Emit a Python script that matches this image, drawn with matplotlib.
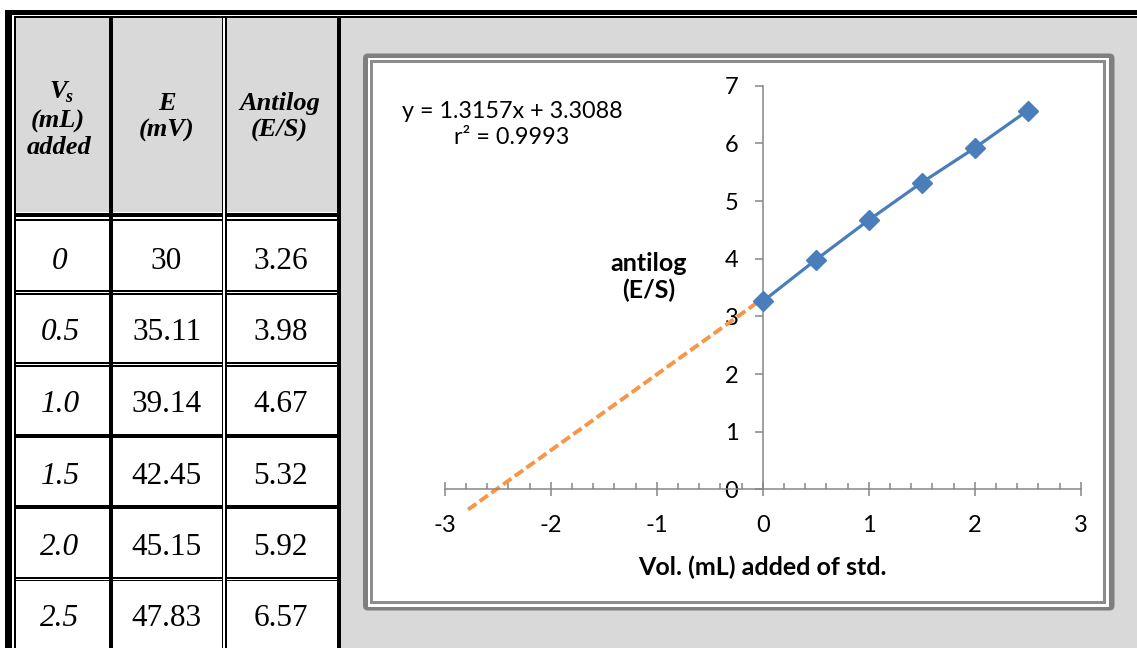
import matplotlib
matplotlib.use("Agg")
import matplotlib.pyplot as plt
from matplotlib.patches import Rectangle, FancyBboxPatch
from matplotlib.ticker import FixedLocator, MultipleLocator

# Standard-addition measurements
vol_added = [0.0, 0.5, 1.0, 1.5, 2.0, 2.5]          # mL of standard added
vol_labels = ["0", "0.5", "1.0", "1.5", "2.0", "2.5"]
potential_mv = [30, 35.11, 39.14, 42.45, 45.15, 47.83]
antilog_es = [3.26, 3.98, 4.67, 5.32, 5.92, 6.57]

# Linear fit of antilog(E/S) against added volume
fit_slope = 1.3157
fit_intercept = 3.3088
fit_r2 = 0.9993
extrap_start = -2.78      # left end of the dashed back-extrapolation

x_ticks = [-3, -2, -1, 0, 1, 2, 3]
y_ticks = [0, 1, 2, 3, 4, 5, 6, 7]

plt.rcParams["axes.unicode_minus"] = False
plt.rcParams["font.family"] = ["Lato", "DejaVu Sans"]

W, H = 1137, 648
fig = plt.figure(figsize=(W / 100, H / 100), dpi=100, facecolor="white")

# Page layer in pixel units (y downwards) for the table and chart frame
page = fig.add_axes([0, 0, 1, 1])
page.set_xlim(0, W)
page.set_ylim(H, 0)
page.axis("off")


def fill(x0, y0, x1, y1, color="black"):
    page.add_patch(Rectangle((x0, y0), x1 - x0, y1 - y0,
                             facecolor=color, edgecolor="none"))


GREY = "#d9d9d9"
SERIF = "Liberation Serif"

# backgrounds
fill(341, 17, W, H, GREY)          # panel behind the chart
fill(15, 17, 337, 212, GREY)       # header cells

# header / body separator (double rule)
fill(15, 213, 337, 217)
fill(15, 219, 337, 221)

# row rules
row_top = 221
row_pitch = 71.6
rule_styles = ["double", "double", "single", "single", "double"]
for k, style in enumerate(rule_styles, start=1):
    y = row_top + k * row_pitch
    if style == "double":
        fill(15, y - 2.2, 337, y - 0.2)
        fill(15, y + 0.8, 337, y + 2.3)
    else:
        fill(15, y - 2.0, 337, y + 2.0)

# outer page rules
fill(5, 9.5, W, 15)
fill(14, 16, W, 17.5)
fill(5, 9.5, 11.5, H)
fill(14, 16, 15.5, H)

# column rules
fill(108.7, 16, 112.7, H)
fill(221.5, 16, 223.2, H)
fill(223.2, 17.5, 225, H, "white")
fill(225, 16, 226.7, H)
fill(336.7, 16, 341, H)

# header text
col_x = [60, 166.5, 280.5]
hdr_kw = dict(family=SERIF, fontsize=19, fontweight="bold", fontstyle="italic",
              ha="center", va="baseline", color="black")
page.text(col_x[0] - 2, 98, "V", **hdr_kw)
page.text(col_x[0] + 9, 102, "s", family=SERIF, fontsize=13, fontweight="bold",
          fontstyle="italic", ha="center", va="baseline")
page.text(col_x[0] - 2, 128, "(mL)", **hdr_kw)
page.text(col_x[0] - 1, 154, "added", **hdr_kw)
page.text(col_x[1], 110, "E", **hdr_kw)
page.text(col_x[1], 137, "(mV)", **hdr_kw)
page.text(col_x[2] - 1, 110, "Antilog", **hdr_kw)
page.text(col_x[2] - 1, 137, "(E/S)", **hdr_kw)

# body text
body_kw = dict(family=SERIF, fontsize=22.5, ha="center", va="baseline", color="black")
for i, (v, e, a) in enumerate(zip(vol_labels, potential_mv, antilog_es)):
    base = 269 + i * 71.5
    page.text(col_x[0], base, v, fontstyle="italic", **body_kw)
    page.text(col_x[1], base, f"{e:g}", **body_kw)
    page.text(col_x[2], base, f"{a:.2f}", **body_kw)

# chart frame (double grey border, rounded outer corner)
page.add_patch(FancyBboxPatch((363, 53.5), 1114.5 - 363, 610.5 - 53.5,
                              boxstyle="round,pad=0,rounding_size=5",
                              facecolor="#7f7f7f", edgecolor="none"))
fill(367.5, 57.5, 1108.5, 606.5, "white")
fill(369.5, 60, 1106, 604, "#8c8c8c")
fill(372.5, 63, 1103, 601, "white")

# ---- scatter chart ----
y_lo, y_hi = -0.6, 7.0
px_x0, px_x1 = 444.7, 1080.7
px_y_top, px_y_bot = 85.7, 524.1
ax = fig.add_axes([px_x0 / W, 1 - px_y_bot / H, (px_x1 - px_x0) / W,
                   (px_y_bot - px_y_top) / H])
ax.set_xlim(-3, 3)
ax.set_ylim(y_lo, y_hi)
ax.patch.set_visible(False)

AXIS_GREY = "#868686"
TICK_SIZE = 17
TITLE_SIZE = 18
for side in ("top", "right"):
    ax.spines[side].set_visible(False)
ax.spines["left"].set_position(("data", 0))
ax.spines["bottom"].set_position(("data", 0))
ax.spines["left"].set_bounds(0, 7)
ax.spines["bottom"].set_bounds(-3, 3)
for side in ("left", "bottom"):
    ax.spines[side].set_color(AXIS_GREY)
    ax.spines[side].set_linewidth(1.1)

ax.xaxis.set_major_locator(FixedLocator(x_ticks))
ax.xaxis.set_minor_locator(MultipleLocator(0.2))
ax.yaxis.set_major_locator(FixedLocator(y_ticks))
ax.tick_params(axis="x", which="major", direction="inout", length=9.4, width=1.1,
               color=AXIS_GREY, pad=13.5, labelsize=TICK_SIZE, labelcolor="black")
ax.tick_params(axis="x", which="minor", direction="in", length=4.5, width=1.1,
               color=AXIS_GREY)
ax.tick_params(axis="y", which="major", direction="out", length=5.5, width=1.1,
               color=AXIS_GREY, pad=12, labelsize=TICK_SIZE, labelcolor="black")

# back-extrapolated fit line
xe = [extrap_start, 0.0]
ye = [fit_slope * x + fit_intercept for x in xe]
ax.plot(xe, ye, color="#f79646", lw=2.8, ls=(0, (2.6, 1.1)),
        dash_capstyle="butt", clip_on=False, zorder=2)

# measured points
ax.plot(vol_added, antilog_es, color="#4a7ebb", lw=2.3, marker="D", ms=10,
        mfc="#4a7ebb", mec="#4a7ebb", clip_on=False, zorder=3)

# fit equation
ax.text(0.1058, 0.9115, f"y = {fit_slope}x + {fit_intercept}\nr\u00b2 = {fit_r2}",
        transform=ax.transAxes, ha="center", va="center", multialignment="center",
        fontsize=16.8, linespacing=1.3, color="black")

# axis titles
ax.set_xlabel("Vol. (mL) added of std.", fontsize=TITLE_SIZE, fontweight="bold")
ax.xaxis.set_label_coords(0.499, -0.071)
ax.set_ylabel("antilog\n(E/S)", fontsize=TITLE_SIZE, fontweight="bold",
              rotation=0, ha="center", va="center", multialignment="center",
              linespacing=1.2)
ax.yaxis.set_label_coords(0.3212, 0.5636)

fig.savefig("out.png", dpi=100, facecolor="white")
